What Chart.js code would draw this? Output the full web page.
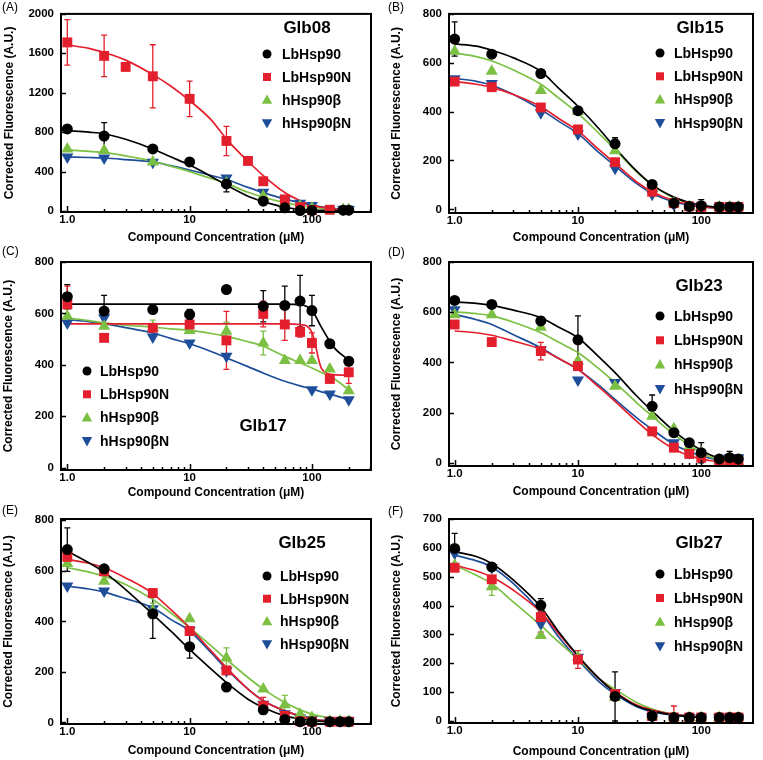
<!DOCTYPE html>
<html>
<head>
<meta charset="utf-8">
<script src="https://cdn.jsdelivr.net/npm/chart.js@4.4.1/dist/chart.umd.min.js"></script>
<style>
  body { margin: 0; background: #fff; }
  #wrap { position: relative; width: 763px; height: 760px; overflow: hidden; }
  #wrap canvas { position: absolute; }
</style>
</head>
<body>
<div id="wrap">
  <canvas id="cA" width="381" height="258" style="left:0;top:0"></canvas>
  <canvas id="cB" width="382" height="258" style="left:381px;top:0"></canvas>
  <canvas id="cC" width="381" height="258" style="left:0;top:246px"></canvas>
  <canvas id="cD" width="382" height="258" style="left:381px;top:246px"></canvas>
  <canvas id="cE" width="381" height="258" style="left:0;top:502px"></canvas>
  <canvas id="cF" width="382" height="258" style="left:381px;top:502px"></canvas>
</div>
<script>
// series
const seriesNames = ["LbHsp90", "LbHsp90N", "hHsp90β", "hHsp90βN"];
const xTickVals = [1, 10, 100];
const xTickText = ["1.0", "10", "100"];
const yTicksA = [0, 400, 800, 1200, 1600, 2000];
const yTics800 = [0, 200, 400, 600, 800];
const yTicksF = [0, 100, 200, 300, 400, 500, 600, 700];

// x values of the fitted curves
const curveX = [1, 1.5, 2, 3, 5, 7, 10, 15, 20, 30, 40, 60, 80, 100, 120, 150, 200];

// (A) Glb08
const concA = [1, 2, 3, 5, 10, 20, 30, 40, 60, 80, 100, 140, 180, 200];
const ptA_lb = [833, 761, null, 630, 498, 275, null, 100, 32, 5, 5, null, 8, 8];
const ptA_lbn = [1711, 1574, 1462, 1367, 1138, 711, 508, 302, 118, 39, 10, 13, null, null];
const ptA_hb = [630, 613, null, 498, null, 285, null, 150, 85, 50, 30, null, 15, 15];
const ptA_hbn = [548, 538, null, 495, null, 334, null, 190, 110, 80, 56, null, 18, 18];
const erA_lb = [0, 135, 0, 0, 0, 80, 0, 0, 0, 0, 0, 0, 0, 0];
const erA_lbn = [230, 210, 0, 320, 180, 148, 0, 0, 0, 0, 0, 0, 0, 0];
const fitA_lb = [816, 800, 784, 728, 630, 550, 466, 351, 262, 150, 95, 38, 18, 10, 6, 3, 1];
const fitA_lbn = [1685, 1650, 1607, 1531, 1384, 1269, 1121, 925, 730, 505, 360, 187, 105, 60, 38, 20, 8];
const fitA_hb = [620, 605, 592, 560, 505, 455, 400, 330, 280, 190, 140, 85, 55, 38, 27, 18, 10];
const fitA_hbn = [548, 543, 538, 522, 498, 460, 416, 360, 320, 240, 187, 121, 85, 58, 42, 28, 15];

// (B) Glb15
const concB = [1, 2, 5, 10, 20, 40, 60, 80, 100, 140, 170, 200];
const ptB_lb = [697, 635, 556, 404, 268, 102, 25, 12, 15, 10, 10, 10];
const ptB_lbn = [523, 500, 417, 327, 193, 72, 25, 12, 10, 10, 10, 10];
const ptB_hb = [647, 565, 486, 400, 240, 90, 25, 12, 10, 10, 10, 10];
const ptB_hbn = [535, 515, 395, 308, 168, 62, 20, 10, 8, 8, 8, 8];
const erB_lb = [70, 0, 0, 0, 25, 0, 0, 0, 25, 0, 0, 0];
const erB_lbn = [0, 15, 0, 0, 0, 0, 0, 0, 0, 0, 0, 0];
const fitB_lb = [677, 668, 651, 620, 565, 495, 422, 327, 252, 156, 100, 50, 28, 17, 11, 6, 3];
const fitB_lbn = [523, 512, 499, 470, 420, 372, 321, 242, 188, 112, 72, 35, 20, 11, 7, 4, 2];
const fitB_hb = [640, 625, 607, 570, 512, 455, 393, 308, 245, 152, 100, 46, 25, 14, 9, 5, 2];
const fitB_hbn = [536, 524, 508, 470, 409, 360, 310, 230, 178, 105, 65, 31, 17, 10, 7, 4, 2];

// (C) Glb17
const concC = [1, 2, 5, 10, 20, 40, 60, 80, 100, 140, 200];
const ptC_lb = [665, 609, 615, 596, 693, 628, 631, 648, 611, 482, 414];
const ptC_lbn = [635, 505, 544, 557, 495, 598, 557, 528, 485, 345, 371];
const ptC_hb = [589, 550, 544, 534, 531, 485, 417, 417, 417, 384, 299];
const ptC_hbn = [563, 583, 508, 485, 433, null, null, null, 303, 287, 264];
const erC_lb = [47, 61, 0, 20, 0, 61, 75, 100, 59, 15, 0];
const erC_lbn = [71, 0, 0, 0, 113, 50, 62, 20, 39, 0, 43];
const erC_hb = [0, 0, 30, 0, 35, 46, 0, 0, 0, 0, 0];
const fitC_lb = [636, 636, 636, 636, 636, 636, 636, 636, 636, 636, 636, 636, 634, 612, 545, 470, 418];
const fitC_lbn = [559, 559, 559, 559, 559, 559, 559, 559, 559, 559, 559, 559, 557, 526, 385, 362, 360];
const fitC_hb = [583, 572, 563, 554, 547, 540, 534, 522, 511, 490, 472, 433, 408, 388, 370, 348, 303];
const fitC_hbn = [576, 568, 560, 545, 524, 503, 482, 452, 427, 393, 368, 336, 318, 306, 295, 282, 264];

// (D) Glb23
const concD = [1, 2, 5, 10, 20, 40, 60, 80, 100, 140, 170, 200];
const ptD_lb = [647, 631, 565, 490, null, 225, 120, 80, 40, 15, 20, 15];
const ptD_lbn = [551, 481, 445, 385, null, 125, 60, 35, 20, 5, 5, 5];
const ptD_hb = [590, 590, 540, 405, 305, 185, 135, 65, 40, 10, 5, 5];
const ptD_hbn = [610, null, 450, 330, 320, null, 80, 40, 20, 15, 20, 20];
const erD_lb = [0, 0, 15, 95, 0, 45, 0, 0, 40, 0, 25, 0];
const erD_lbn = [0, 0, 35, 15, 0, 0, 0, 0, 0, 0, 0, 0];
const fitD_lb = [641, 635, 627, 608, 578, 540, 498, 419, 359, 266, 206, 126, 80, 50, 30, 13, 5];
const fitD_lbn = [525, 518, 508, 485, 452, 415, 372, 299, 245, 165, 112, 55, 28, 16, 8, 3, 1];
const fitD_hb = [601, 594, 585, 560, 518, 480, 439, 372, 319, 239, 186, 113, 70, 40, 22, 8, 3];
const fitD_hbn = [591, 570, 551, 510, 458, 415, 372, 306, 252, 179, 133, 73, 45, 29, 17, 8, 3];

// (E) Glb25
const concE = [1, 2, 5, 10, 20, 40, 60, 80, 100, 140, 170, 200];
const ptE_lb = [684, 608, 430, 300, 140, 50, 12, 3, 3, 3, 3, 3];
const ptE_lbn = [655, 598, 512, 362, 206, 66, 26, 5, 3, 3, 3, 3];
const ptE_hb = [629, 559, 442, 410, 255, 132, 70, 33, 20, 5, 5, 5];
const ptE_hbn = [540, 520, 450, 365, 205, 72, 35, 18, 12, 7, 7, 7];
const erE_lb = [86, 0, 97, 45, 0, 0, 0, 0, 0, 0, 0, 0];
const erE_lbn = [0, 0, 0, 0, 0, 33, 0, 0, 0, 0, 0, 0];
const erE_hb = [0, 0, 30, 0, 40, 0, 37, 0, 0, 0, 0, 0];
const fitE_lb = [678, 632, 595, 526, 428, 362, 289, 211, 158, 92, 59, 26, 14, 7, 4, 2, 1];
const fitE_lbn = [645, 630, 612, 572, 510, 447, 375, 283, 217, 132, 86, 46, 26, 13, 8, 4, 2];
const fitE_hb = [612, 595, 579, 546, 487, 434, 375, 303, 250, 178, 132, 79, 50, 33, 24, 15, 8];
const fitE_hbn = [539, 528, 516, 490, 454, 408, 362, 276, 211, 132, 86, 46, 26, 13, 8, 4, 2];

// (F) Glb27
const concF = [1, 2, 5, 10, 20, 40, 60, 80, 100, 140, 170, 200];
const ptF_lb = [598, 534, 401, null, 85, 17, 12, 12, 12, 12, 12, 12];
const ptF_lbn = [531, 491, 360, 213, 93, 17, 12, 12, 12, 12, 12, 12];
const ptF_hb = [540, 465, 296, 221, 81, 15, 12, 12, 12, 12, 12, 12];
const ptF_hbn = [581, 532, 337, 221, 99, 15, 12, 12, 12, 12, 12, 12];
const erF_lb = [52, 0, 23, 0, 85, 0, 0, 0, 0, 0, 0, 0];
const erF_lbn = [0, 0, 52, 31, 0, 0, 40, 0, 0, 0, 0, 0];
const erF_hb = [0, 30, 0, 0, 0, 0, 0, 0, 0, 0, 0, 0];
const fitF_lb = [587, 570, 546, 488, 395, 308, 226, 145, 99, 52, 35, 20, 15, 12, null, null, null];
const fitF_lbn = [540, 520, 499, 453, 377, 302, 224, 145, 101, 55, 38, 23, 17, 14, null, null, null];
const fitF_hb = [540, 505, 476, 412, 331, 273, 215, 145, 110, 64, 41, 23, 17, 14, null, null, null];
const fitF_hbn = [575, 555, 534, 476, 377, 290, 213, 134, 93, 49, 31, 20, 15, 12, null, null, null];

// styling
const colors = ["#000000", "#e41f2d", "#7bc043", "#1e4e9a"];
const styles = ["circle", "rect", "triangle", "triangle"];
const rots = [0, 0, 0, 180];
const radii = [5.5, 7, 7, 7];
const FONT = "'Liberation Sans', Arial, Helvetica, sans-serif";
Chart.defaults.font.family = FONT;
Chart.defaults.color = "#000";

const panels = [
  { id: "cA", tag: "(A)", tagX: 2, tagY: 8, name: "Glb08", conc: concA,
    pts: [ptA_lb, ptA_lbn, ptA_hb, ptA_hbn], errs: [erA_lb, erA_lbn, null, null],
    fits: [fitA_lb, fitA_lbn, fitA_hb, fitA_hbn],
    yMin: -10, yMax: 2000, yTicks: yTicksA, xMin: 0.888, xMax: 304,
    area: { l: 61, r: 371, t: 6, b: 212 }, yTitleX: 10, xTitleY: 238,
    title: [307, 28], leg: { mx: 267, tx: 282, y0: 54, dy: 23 } },
  { id: "cB", tag: "(B)", tagX: 7, tagY: 8, name: "Glb15", conc: concB,
    pts: [ptB_lb, ptB_lbn, ptB_hb, ptB_hbn], errs: [erB_lb, erB_lbn, null, null],
    fits: [fitB_lb, fitB_lbn, fitB_hb, fitB_hbn],
    yMin: -15, yMax: 800, yTicks: yTics800, xMin: 0.9, xMax: 263,
    area: { l: 68, r: 372, t: 7, b: 213 }, yTitleX: 16, xTitleY: 238,
    title: [319, 28], leg: { mx: 279, tx: 293, y0: 53, dy: 23.3 } },
  { id: "cC", tag: "(C)", tagX: 2, tagY: 6, name: "Glb17", conc: concC,
    pts: [ptC_lb, ptC_lbn, ptC_hb, ptC_hbn], errs: [erC_lb, erC_lbn, erC_hb, null],
    fits: [fitC_lb, fitC_lbn, fitC_hb, fitC_hbn],
    yMin: -9, yMax: 800, yTicks: yTics800, xMin: 0.888, xMax: 304,
    area: { l: 61, r: 371, t: 16, b: 224 }, yTitleX: 9, xTitleY: 247,
    title: [263, 180], leg: { mx: 87, tx: 100, y0: 125, dy: 23.3 } },
  { id: "cD", tag: "(D)", tagX: 7, tagY: 7, name: "Glb23", conc: concD,
    pts: [ptD_lb, ptD_lbn, ptD_hb, ptD_hbn], errs: [erD_lb, erD_lbn, null, null],
    fits: [fitD_lb, fitD_lbn, fitD_hb, fitD_hbn],
    yMin: -13, yMax: 800, yTicks: yTics800, xMin: 0.9, xMax: 263,
    area: { l: 68, r: 372, t: 16, b: 220 }, yTitleX: 16, xTitleY: 246,
    title: [318, 40], leg: { mx: 279, tx: 293, y0: 70, dy: 24.3 } },
  { id: "cE", tag: "(E)", tagX: 2, tagY: 9, name: "Glb25", conc: concE,
    pts: [ptE_lb, ptE_lbn, ptE_hb, ptE_hbn], errs: [erE_lb, erE_lbn, erE_hb, null],
    fits: [fitE_lb, fitE_lbn, fitE_hb, fitE_hbn],
    yMin: -6, yMax: 805, yTicks: yTics800, xMin: 0.888, xMax: 304,
    area: { l: 61, r: 371, t: 17, b: 222 }, yTitleX: 9, xTitleY: 249,
    title: [302, 41], leg: { mx: 267, tx: 280, y0: 74, dy: 22.7 } },
  { id: "cF", tag: "(F)", tagX: 7, tagY: 10, name: "Glb27", conc: concF,
    pts: [ptF_lb, ptF_lbn, ptF_hb, ptF_hbn], errs: [erF_lb, erF_lbn, erF_hb, null],
    fits: [fitF_lb, fitF_lbn, fitF_hb, fitF_hbn],
    yMin: -7, yMax: 700, yTicks: yTicksF, xMin: 0.9, xMax: 263,
    area: { l: 68, r: 372, t: 17, b: 221 }, yTitleX: 16, xTitleY: 250,
    title: [318, 41], leg: { mx: 279, tx: 293, y0: 72, dy: 24 } },
];

function marker(ctx, s, x, y, r) {
  ctx.fillStyle = colors[s];
  ctx.beginPath();
  if (styles[s] === "circle") {
    ctx.arc(x, y, r, 0, Math.PI * 2);
  } else if (styles[s] === "rect") {
    ctx.rect(x - r, y - r, 2 * r, 2 * r);
  } else {
    const d = rots[s] ? -1 : 1;
    ctx.moveTo(x, y - d * r);
    ctx.lineTo(x + r * 0.95, y + d * r * 0.7);
    ctx.lineTo(x - r * 0.95, y + d * r * 0.7);
    ctx.closePath();
  }
  ctx.fill();
}

const panelDeco = {
  id: "panelDeco",
  beforeDatasetsDraw(chart, args, p) {
    const ctx = chart.ctx, xs = chart.scales.x, ys = chart.scales.y;
    ctx.save();
    ctx.lineWidth = 1.3;
    p.errs.forEach((er, s) => {
      if (!er) return;
      ctx.strokeStyle = colors[s];
      er.forEach((e, i) => {
        const v = p.pts[s][i];
        if (!e || v == null) return;
        const x = xs.getPixelForValue(p.conc[i]);
        const y1 = ys.getPixelForValue(v + e);
        const y2 = Math.min(ys.getPixelForValue(v - e), chart.chartArea.bottom);
        ctx.beginPath();
        ctx.moveTo(x, y1); ctx.lineTo(x, y2);
        ctx.moveTo(x - 3, y1); ctx.lineTo(x + 3, y1);
        ctx.moveTo(x - 3, y2); ctx.lineTo(x + 3, y2);
        ctx.stroke();
      });
    });
    ctx.restore();
  },
  afterDatasetsDraw(chart, args, p) {
    const ctx = chart.ctx, xs = chart.scales.x, ys = chart.scales.y;
    const a = chart.chartArea;
    ctx.save();
    // frame
    ctx.strokeStyle = "#000";
    ctx.lineWidth = 2;
    ctx.strokeRect(a.left, a.top, a.right - a.left, a.bottom - a.top);
    // inside ticks
    ctx.lineWidth = 1.5;
    ctx.beginPath();
    p.yTicks.forEach(v => {
      const y = Math.round(ys.getPixelForValue(v)) + 0.5;
      ctx.moveTo(a.left, y); ctx.lineTo(a.left + 5, y);
    });
    [1, 10, 100].forEach(dec => {
      for (let k = 1; k <= 9; k++) {
        const v = dec * k;
        if (v < p.xMin || v > p.xMax) continue;
        const x = Math.round(xs.getPixelForValue(v)) + 0.5;
        ctx.moveTo(x, a.bottom); ctx.lineTo(x, a.bottom - (k === 1 ? 6 : 3));
      }
    });
    ctx.stroke();
    // compound name
    ctx.fillStyle = "#000";
    ctx.textAlign = "center";
    ctx.textBaseline = "middle";
    ctx.font = "bold 17px " + FONT;
    ctx.fillText(p.name, p.title[0], p.title[1]);
    // legend
    ctx.font = "bold 14px " + FONT;
    ctx.textAlign = "left";
    seriesNames.forEach((n, s) => {
      const y = p.leg.y0 + s * p.leg.dy;
      marker(ctx, s, p.leg.mx, y, [4.5, 4, 5.5, 5.5][s]);
      ctx.fillStyle = "#000";
      ctx.fillText(n, p.leg.tx, y + 1);
    });
    // panel tag
    ctx.font = "12px " + FONT;
    ctx.fillText(p.tag, p.tagX, p.tagY);
    ctx.restore();
  }
};

panels.forEach(p => {
  const canvas = document.getElementById(p.id);
  const W = canvas.width, H = canvas.height;
  const datasets = [];
  p.fits.forEach((f, s) => {
    datasets.push({
      data: curveX.map((x, i) => ({ x: x, y: f[i] })).filter(d => d.y != null),
      showLine: true,
      borderColor: colors[s],
      borderWidth: 1.7,
      pointRadius: 0,
      cubicInterpolationMode: "monotone",
      order: 2
    });
  });
  p.pts.forEach((vals, s) => {
    datasets.push({
      data: p.conc.map((x, i) => ({ x: x, y: vals[i] })).filter(d => d.y != null),
      showLine: false,
      pointStyle: styles[s],
      rotation: rots[s],
      pointRadius: radii[s],
      backgroundColor: colors[s],
      borderColor: colors[s],
      borderWidth: 0,
      clip: false,
      order: 1
    });
  });
  new Chart(canvas, {
    type: "scatter",
    data: { datasets: datasets },
    options: {
      responsive: false,
      animation: false,
      events: [],
      layout: { padding: { top: p.area.t, right: W - p.area.r, left: 0, bottom: 0 } },
      plugins: { legend: { display: false }, tooltip: { enabled: false }, panelDeco: p },
      scales: {
        x: {
          type: "logarithmic",
          min: p.xMin, max: p.xMax,
          afterBuildTicks: sc => { sc.ticks = xTickVals.map(v => ({ value: v })); },
          afterFit: sc => { sc.height = H - p.area.b; },
          grid: { display: false, drawTicks: false },
          border: { display: false },
          ticks: {
            callback: (v, i) => xTickText[i],
            autoSkip: false, maxRotation: 0, padding: 1,
            font: { size: 11.5, weight: "bold" }, color: "#000"
          },
          title: {
            display: true, text: "Compound Concentration (μM)", color: "#000",
            font: { size: 12, weight: "bold" },
            padding: { top: 0, bottom: H - p.xTitleY - 7.2 }
          }
        },
        y: {
          min: p.yMin, max: p.yMax,
          afterBuildTicks: sc => { sc.ticks = p.yTicks.map(v => ({ value: v })); },
          afterFit: sc => { sc.width = p.area.l; },
          grid: { display: false, drawTicks: false },
          border: { display: false },
          ticks: {
            callback: v => String(v),
            padding: 7, font: { size: 11.5, weight: "bold" }, color: "#000"
          },
          title: {
            display: true, text: "Corrected Fluorescence (A.U.)", color: "#000",
            font: { size: 12, weight: "bold" },
            padding: { top: p.yTitleX - 7.2, bottom: 0 }
          }
        }
      }
    },
    plugins: [panelDeco]
  });
});
</script>
</body>
</html>
